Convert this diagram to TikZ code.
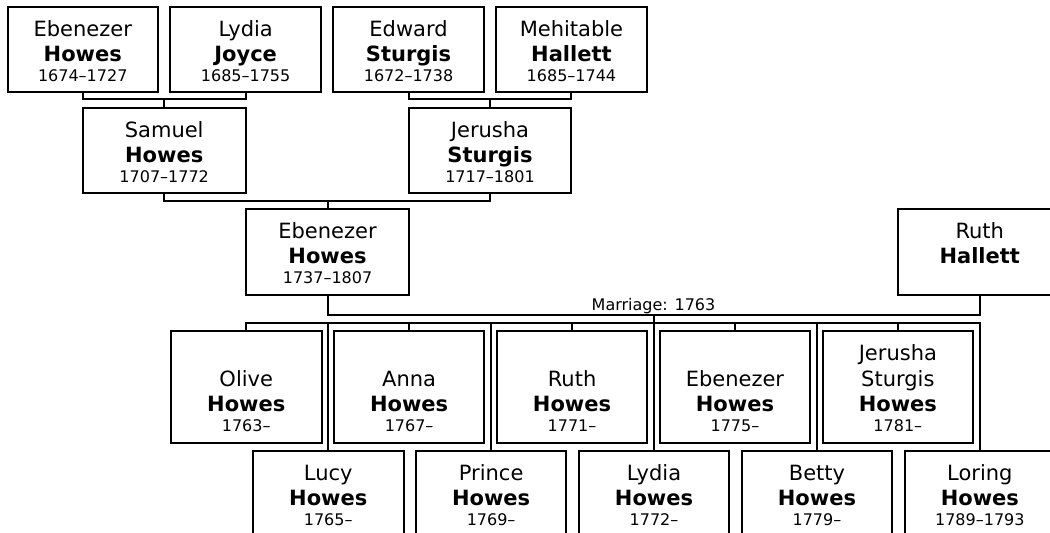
\documentclass[tikz,border=0pt]{standalone}
\usepackage{fontspec}
\setmainfont{DejaVu Sans}
\newcommand\nm{\fontsize{21}{25.5}\selectfont}
\newcommand\dt{\fontsize{16}{20}\selectfont}
\newcommand\pcell[4]{\parbox[t][#2][t]{#1}{\centering\lineskiplimit=-100pt\lineskip=0pt\rule{0pt}{#3}#4}}
\newcommand\pcsm{\pcell{150.5pt}{85pt}{29.5pt}}
\newcommand\pcbg{\pcell{162.9pt}{85pt}{29.5pt}}
\newcommand\kidA{\pcell{150.5pt}{112pt}{55pt}}
\newcommand\kidB{\pcell{150.5pt}{112pt}{29.5pt}}
\newcommand\kidC{\pcell{150.5pt}{112pt}{29pt}}
\begin{document}
\begin{tikzpicture}[x=1pt,y=-1pt,
  person/.style={draw, line width=2pt, inner sep=0pt, outer sep=0pt, anchor=north west},
  conn/.style={draw, line width=2pt, line cap=rect}]
\useasboundingbox (0,0) rectangle (1050,533);
\clip (0,0) rectangle (1050,533);
% generation 1
\node[person] (eh1) at (7.5,6.7) {\pcsm{{\nm Ebenezer\par\textbf{Howes}\par}{\dt 1674--1727\par}}};
\node[person] (lj) at (170.4,6.7) {\pcsm{{\nm Lydia\par\textbf{Joyce}\par}{\dt 1685--1755\par}}};
\node[person] (es) at (333.3,6.7) {\pcsm{{\nm Edward\par\textbf{Sturgis}\par}{\dt 1672--1738\par}}};
\node[person] (mh) at (496.2,6.7) {\pcsm{{\nm Mehitable\par\textbf{Hallett}\par}{\dt 1685--1744\par}}};
% generation 2
\node[person] (sh) at (82.75,107.7) {\pcbg{{\nm Samuel\par\textbf{Howes}\par}{\dt 1707--1772\par}}};
\node[person] (js) at (408.55,107.7) {\pcbg{{\nm Jerusha\par\textbf{Sturgis}\par}{\dt 1717--1801\par}}};
% generation 3
\node[person] (eb) at (246.1,208.5) {\pcell{162.9pt}{86.5pt}{29.5pt}{{\nm Ebenezer\par\textbf{Howes}\par}{\dt 1737--1807\par}}};
\node[person] (rh) at (898.3,208.5) {\pcell{162.9pt}{86.5pt}{29.5pt}{{\nm Ruth\par\textbf{Hallett}\par}}};
% children, upper row
\node[person] (c1) at (171,331) {\kidA{{\nm Olive\par\textbf{Howes}\par}{\dt 1763--\par}}};
\node[person] (c3) at (333.9,331) {\kidA{{\nm Anna\par\textbf{Howes}\par}{\dt 1767--\par}}};
\node[person] (c5) at (496.8,331) {\kidA{{\nm Ruth\par\textbf{Howes}\par}{\dt 1771--\par}}};
\node[person] (c7) at (659.7,331) {\kidA{{\nm Ebenezer\par\textbf{Howes}\par}{\dt 1775--\par}}};
\node[person] (c9) at (822.6,331) {\kidB{{\nm Jerusha\par Sturgis\par\textbf{Howes}\par}{\dt 1781--\par}}};
% children, lower row
\node[person] (c2) at (253,451) {\kidC{{\nm Lucy\par\textbf{Howes}\par}{\dt 1765--\par}}};
\node[person] (c4) at (415.9,451) {\kidC{{\nm Prince\par\textbf{Howes}\par}{\dt 1769--\par}}};
\node[person] (c6) at (578.8,451) {\kidC{{\nm Lydia\par\textbf{Howes}\par}{\dt 1772--\par}}};
\node[person] (c8) at (741.7,451) {\kidC{{\nm Betty\par\textbf{Howes}\par}{\dt 1779--\par}}};
\node[person] (c10) at (904.6,451) {\kidC{{\nm Loring\par\textbf{Howes}\par}{\dt 1789--1793\par}}};
% connector levels
\coordinate (bar1) at (0,99.2);
\coordinate (bar2) at (0,200.6);
\coordinate (mar) at (0,315);
\coordinate (kbar) at (0,323);
% parents of Samuel and Jerusha
\path[conn] (eh1.south) -- (eh1.south |- bar1) -- (lj.south |- bar1) -- (lj.south);
\path[conn] (sh.north |- bar1) -- (sh.north);
\path[conn] (es.south) -- (es.south |- bar1) -- (mh.south |- bar1) -- (mh.south);
\path[conn] (js.north |- bar1) -- (js.north);
% parents of Ebenezer
\path[conn] (sh.south) -- (sh.south |- bar2) -- (js.south |- bar2) -- (js.south);
\path[conn] (eb.north |- bar2) -- (eb.north);
% marriage
\path[conn] (eb.south) -- (eb.south |- mar) -- (rh.south |- mar) -- (rh.south);
\node[anchor=base, inner sep=0pt, font=\dt] (mlabel) at (653.5,310) {Marriage: 1763};
% children
\path[conn] (c6.north |- mar) -- (c6.north);
\path[conn] (c1.north) -- (c1.north |- kbar) -- (c10.north |- kbar) -- (c10.north);
\foreach \k in {c2,c3,c4,c5,c7,c8,c9}{
  \path[conn] (\k.north |- kbar) -- (\k.north);
}
\end{tikzpicture}
\end{document}
